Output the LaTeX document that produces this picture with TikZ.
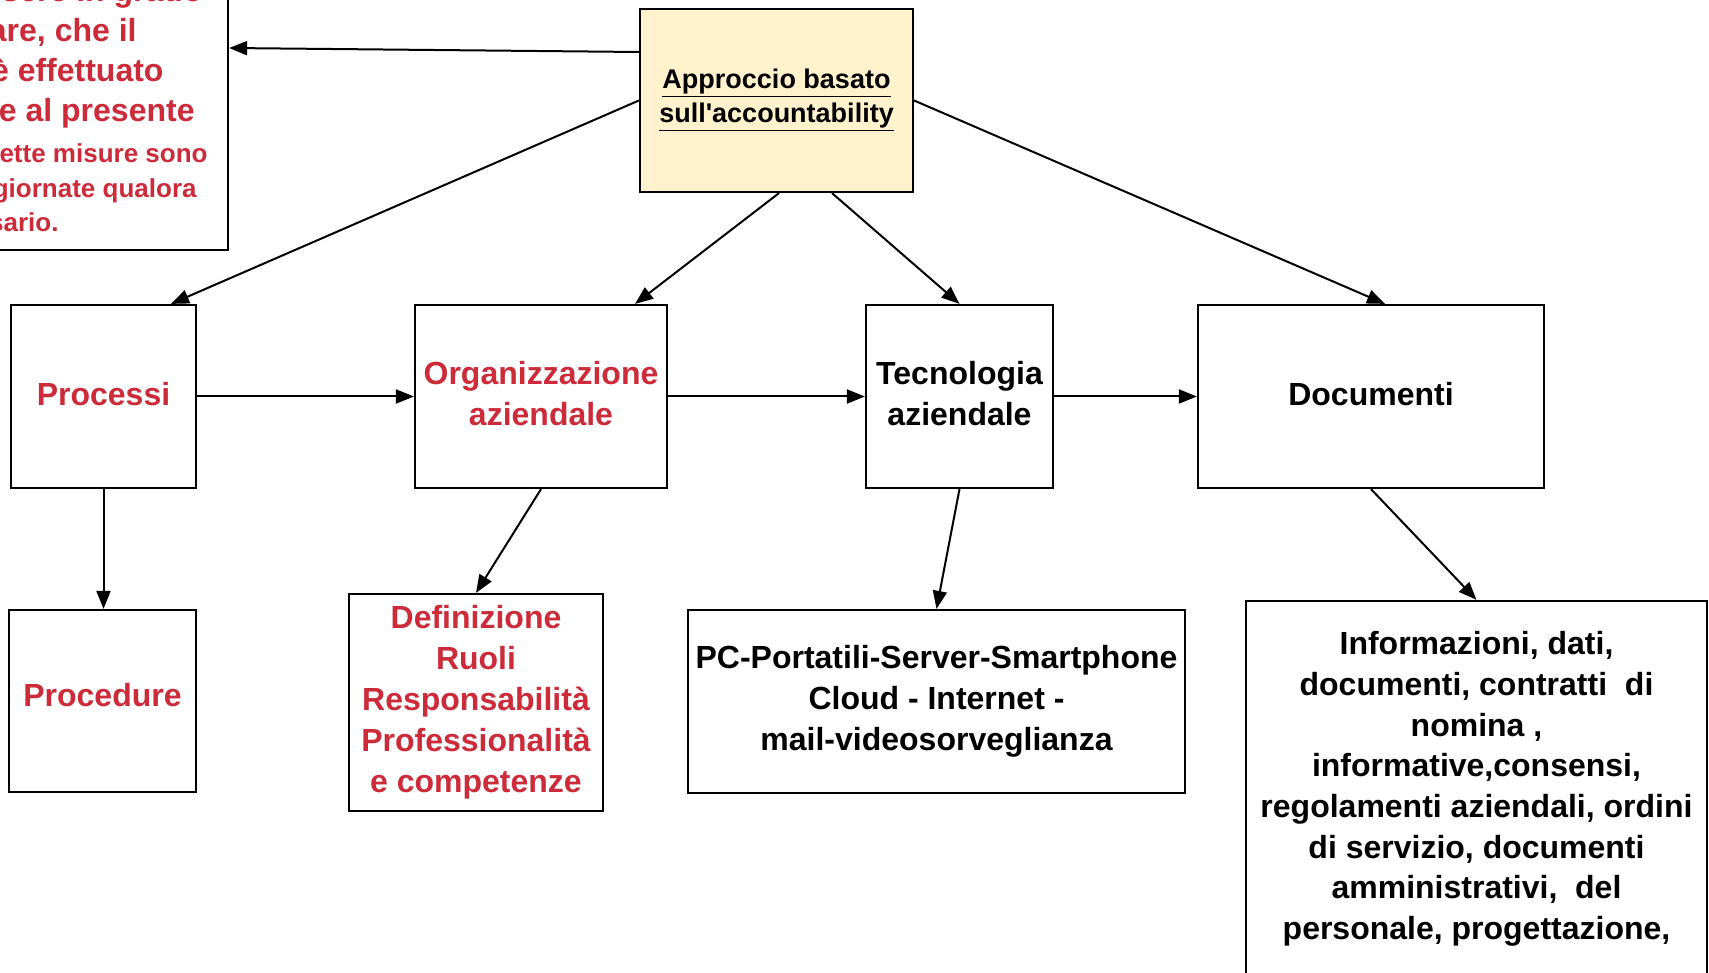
\documentclass[tikz,border=0pt]{standalone}
\usepackage{fontspec}
\setmainfont{Liberation Sans}[Ligatures=TeXOff]
\usetikzlibrary{arrows.meta}
\definecolor{myred}{RGB}{204,43,58}
\definecolor{appfill}{RGB}{255,242,204}
\tikzset{
  box/.style={draw=black, line width=1.1pt, fill=white, inner sep=0pt, align=center,
              font=\fontsize{16}{20.5}\selectfont\bfseries},
  redtxt/.style={text=myred},
  bigline/.style={inner sep=0pt, anchor=base east, text=myred, font=\fontsize{16}{20}\selectfont\bfseries},
  smallline/.style={inner sep=0pt, anchor=base east, text=myred, font=\fontsize{13}{17}\selectfont\bfseries},
  arr/.style={line width=1pt, -{Triangle[length=9pt,width=7pt]}},
}
\begin{document}
\begin{tikzpicture}[x=0.5pt,y=-0.5pt]
\useasboundingbox (0,0) rectangle (1709,973);
\clip (0,0) rectangle (1709,973);
\fill[white] (0,0) rectangle (1709,973);

% top-left box (cut off by the picture edge)
\node[box, minimum width=264pt, minimum height=225pt] (tl) at (-36,25) {};
\node[bigline] (tl1) at (203,1.7) {garantire, ed essere in grado};
\node[bigline] (tl2) at (137,41.7) {di dimostrare, che il};
\node[bigline] (tl3) at (164,81.7) {trattamento è effettuato};
\node[bigline] (tl4) at (195,121.7) {conformemente al presente};
\node[smallline] (tl5) at (208,163) {regolamento. Dette misure sono};
\node[smallline] (tl6) at (197,198) {riesaminate e aggiornate qualora};
\node[smallline] (tl7) at (59,232) {necessario.};

% main nodes
\node[box, fill=appfill, minimum width=136.5pt, minimum height=91.5pt,
      font=\fontsize{13.5}{17}\selectfont\bfseries] (app) at (776.5,100.5)
      {\underline{Approccio basato}\\\underline{sull'accountability}};
\node[box, redtxt, text depth=3pt, minimum width=92.5pt, minimum height=91.5pt] (proc) at (103.5,396.5) {Processi};
\node[box, redtxt, text depth=3pt, minimum width=126pt, minimum height=91.5pt] (org) at (541,396.5) {Organizzazione\\aziendale};
\node[box, text depth=3pt, minimum width=93.5pt, minimum height=91.5pt] (tec) at (959.5,396.5) {Tecnologia\\aziendale};
\node[box, text depth=3pt, minimum width=173pt, minimum height=91.5pt] (doc) at (1371,396.5) {Documenti};

\node[box, redtxt, text depth=6.4pt, minimum width=93.5pt, minimum height=91pt] (proced) at (102.5,701) {Procedure};
\node[box, redtxt, minimum width=127pt, minimum height=108.5pt] (def) at (476,702.5)
  {Definizione\\Ruoli\\Responsabilità\\Professionalità\\e competenze};
\node[box, minimum width=248.5pt, minimum height=91.5pt] (pc) at (936.5,701.5)
  {PC-Portatili-Server-Smartphone\\Cloud - Internet -\\mail-videosorveglianza};
\node[box, minimum width=230.5pt, minimum height=192pt] (info) at (1476.5,793) {};
\node[inner sep=0pt, align=center, font=\fontsize{16}{20.35}\selectfont\bfseries] (infotext) at (1476.5,789)
  {Informazioni, dati,\\documenti, contratti~ di\\nomina ,\\informative,consensi,\\regolamenti aziendali, ordini\\di servizio, documenti\\amministrativi,~ del\\personale, progettazione,};

% connectors
\draw[arr] ([yshift=24.25pt]app.west) -- ([yshift=-11.5pt]tl.east);
\draw[arr] (app.west) -- ([xshift=33.75pt]proc.north);
\draw[arr] ([xshift=1.25pt]app.south) -- ([xshift=47pt]org.north);
\draw[arr] ([xshift=27.75pt]app.south) -- (tec.north);
\draw[arr] (app.east) -- ([xshift=7pt]doc.north);
\draw[arr] (proc.east) -- (org.west);
\draw[arr] (org.east) -- (tec.west);
\draw[arr] (tec.east) -- (doc.west);
\draw[arr] (proc.south) -- (proc.south |- proced.north);
\draw[arr] (org.south) -- (def.north);
\draw[arr] (tec.south) -- (pc.north);
\draw[arr] (doc.south) -- (info.north);
\end{tikzpicture}
\end{document}
